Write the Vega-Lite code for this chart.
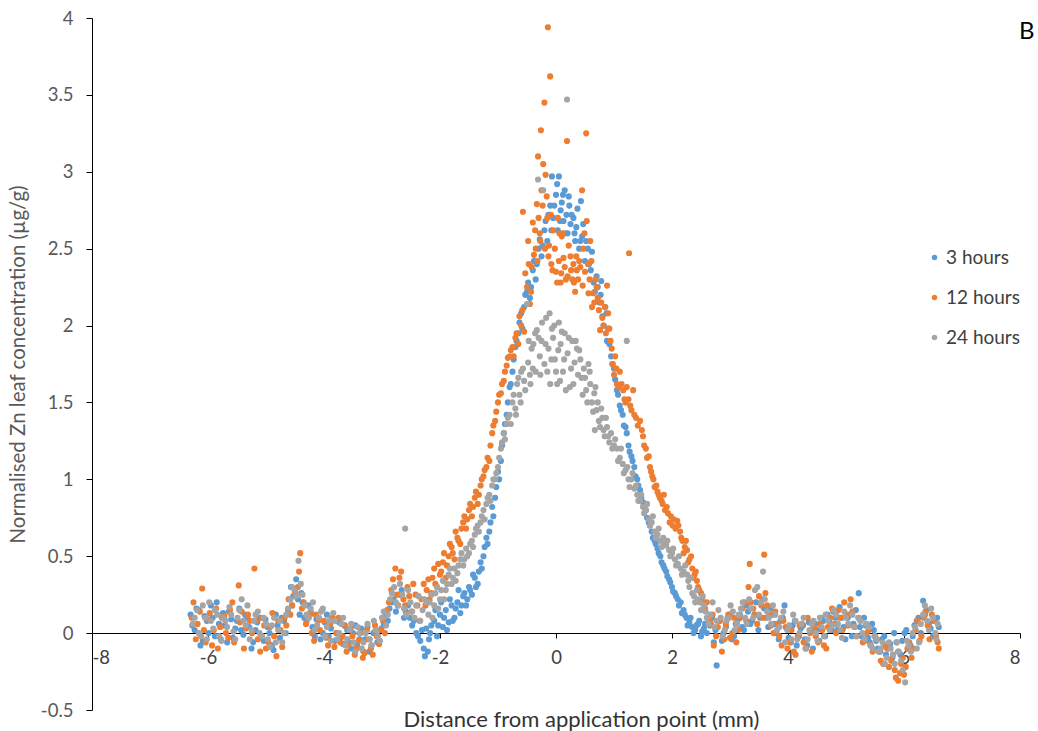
{
"$schema": "https://vega.github.io/schema/vega-lite/v6.json",
"width": 928, "height": 692,
"autosize": {"type": "none"},
"padding": {"left": 92, "top": 18, "right": 18, "bottom": 21},
"background": "white",
"config": {"view": {"stroke": null}, "font": "Lato"},
"title": {"text": "B", "anchor": "end", "fontSize": 24, "fontWeight": "normal", "color": "#000000", "dx": 14, "dy": 22, "offset": -32, "baseline": "alphabetic", "font": "Lato"},
"data": {"values": [
{"h":3,"x":-6.30,"y":0.12},{"h":3,"x":-6.23,"y":0.02},{"h":3,"x":-6.16,"y":0.15},{"h":3,"x":-6.09,"y":-0.05},{"h":3,"x":-6.02,"y":0.08},{"h":3,"x":-5.95,"y":0.18},{"h":3,"x":-5.88,"y":-0.02},{"h":3,"x":-5.81,"y":0.06},{"h":3,"x":-5.74,"y":0.13},{"h":3,"x":-5.67,"y":-0.06},{"h":3,"x":-5.60,"y":0.09},{"h":3,"x":-5.53,"y":0.03},{"h":3,"x":-5.46,"y":0.16},{"h":3,"x":-5.39,"y":-0.01},{"h":3,"x":-5.32,"y":0.10},{"h":3,"x":-5.25,"y":-0.10},{"h":3,"x":-5.18,"y":0.02},{"h":3,"x":-5.11,"y":0.10},{"h":3,"x":-5.04,"y":-0.05},{"h":3,"x":-4.97,"y":0.04},{"h":3,"x":-4.90,"y":-0.08},{"h":3,"x":-4.83,"y":0.12},{"h":3,"x":-4.76,"y":-0.03},{"h":3,"x":-4.69,"y":0.08},{"h":3,"x":-4.62,"y":0.15},{"h":3,"x":-4.57,"y":0.30},{"h":3,"x":-4.53,"y":0.24},{"h":3,"x":-4.48,"y":0.35},{"h":3,"x":-4.42,"y":0.12},{"h":3,"x":-4.37,"y":0.20},{"h":3,"x":-4.30,"y":0.08},{"h":3,"x":-4.23,"y":0.14},{"h":3,"x":-4.16,"y":-0.02},{"h":3,"x":-4.09,"y":0.10},{"h":3,"x":-4.02,"y":0.00},{"h":3,"x":-3.95,"y":0.12},{"h":3,"x":-3.88,"y":0.03},{"h":3,"x":-3.81,"y":-0.05},{"h":3,"x":-3.74,"y":0.07},{"h":3,"x":-3.67,"y":-0.07},{"h":3,"x":-3.60,"y":0.02},{"h":3,"x":-3.53,"y":-0.10},{"h":3,"x":-3.46,"y":0.05},{"h":3,"x":-3.39,"y":-0.04},{"h":3,"x":-3.32,"y":-0.12},{"h":3,"x":-3.25,"y":0.04},{"h":3,"x":-3.18,"y":-0.08},{"h":3,"x":-3.11,"y":0.01},{"h":3,"x":-3.04,"y":-0.05},{"h":3,"x":-2.97,"y":0.06},{"h":3,"x":-2.90,"y":0.08},{"h":3,"x":-2.83,"y":0.20},{"h":3,"x":-2.76,"y":0.14},{"h":3,"x":-2.69,"y":0.25},{"h":3,"x":-2.62,"y":0.10},{"h":3,"x":-2.55,"y":0.18},{"h":3,"x":-2.48,"y":0.05},{"h":3,"x":-2.41,"y":0.00},{"h":3,"x":-2.34,"y":-0.05},{"h":3,"x":-2.28,"y":-0.10},{"h":3,"x":-2.24,"y":0.03},{"h":3,"x":-2.26,"y":-0.15},{"h":3,"x":-2.19,"y":-0.04},{"h":3,"x":-2.15,"y":0.05},
{"h":3,"x":-6.27,"y":0.05},{"h":3,"x":-6.20,"y":0.16},{"h":3,"x":-6.13,"y":-0.08},{"h":3,"x":-6.06,"y":0.11},{"h":3,"x":-5.99,"y":0.00},{"h":3,"x":-5.92,"y":0.10},{"h":3,"x":-5.85,"y":0.20},{"h":3,"x":-5.78,"y":-0.04},{"h":3,"x":-5.71,"y":0.05},{"h":3,"x":-5.64,"y":0.14},{"h":3,"x":-5.57,"y":-0.03},{"h":3,"x":-5.50,"y":0.08},{"h":3,"x":-5.43,"y":0.02},{"h":3,"x":-5.36,"y":0.12},{"h":3,"x":-5.29,"y":0.04},{"h":3,"x":-5.22,"y":-0.06},{"h":3,"x":-5.15,"y":0.07},{"h":3,"x":-5.08,"y":-0.02},{"h":3,"x":-5.01,"y":0.09},{"h":3,"x":-4.94,"y":0.00},{"h":3,"x":-4.87,"y":-0.11},{"h":3,"x":-4.80,"y":0.05},{"h":3,"x":-4.73,"y":0.10},{"h":3,"x":-4.66,"y":0.00},{"h":3,"x":-4.60,"y":0.22},{"h":3,"x":-4.55,"y":0.18},{"h":3,"x":-4.50,"y":0.28},{"h":3,"x":-4.45,"y":0.22},{"h":3,"x":-4.39,"y":0.26},{"h":3,"x":-4.34,"y":0.10},{"h":3,"x":-4.27,"y":0.18},{"h":3,"x":-4.20,"y":0.04},{"h":3,"x":-4.13,"y":0.09},{"h":3,"x":-4.06,"y":-0.04},{"h":3,"x":-3.99,"y":0.07},{"h":3,"x":-3.92,"y":-0.02},{"h":3,"x":-3.85,"y":0.10},{"h":3,"x":-3.78,"y":0.00},{"h":3,"x":-3.71,"y":-0.03},{"h":3,"x":-3.64,"y":0.05},{"h":3,"x":-3.57,"y":-0.06},{"h":3,"x":-3.50,"y":0.00},{"h":3,"x":-3.43,"y":-0.08},{"h":3,"x":-3.36,"y":0.03},{"h":3,"x":-3.29,"y":-0.04},{"h":3,"x":-3.22,"y":-0.12},{"h":3,"x":-3.15,"y":0.00},{"h":3,"x":-3.08,"y":-0.06},{"h":3,"x":-3.01,"y":0.03},{"h":3,"x":-2.94,"y":0.12},{"h":3,"x":-2.87,"y":0.16},{"h":3,"x":-2.80,"y":0.22},{"h":3,"x":-2.73,"y":0.18},{"h":3,"x":-2.66,"y":0.28},{"h":3,"x":-2.59,"y":0.14},{"h":3,"x":-2.52,"y":0.10},{"h":3,"x":-2.45,"y":0.08},{"h":3,"x":-2.38,"y":-0.02},{"h":3,"x":-2.31,"y":0.02},{"h":3,"x":-2.21,"y":-0.12},{"h":3,"x":-2.17,"y":0.00},
{"h":3,"x":-2.10,"y":0.08},{"h":3,"x":-2.05,"y":-0.02},{"h":3,"x":-2.00,"y":0.12},{"h":3,"x":-1.95,"y":0.04},{"h":3,"x":-1.90,"y":0.15},{"h":3,"x":-1.85,"y":0.07},{"h":3,"x":-1.80,"y":0.18},{"h":3,"x":-1.75,"y":0.10},{"h":3,"x":-1.70,"y":0.20},{"h":3,"x":-1.65,"y":0.13},{"h":3,"x":-1.60,"y":0.24},{"h":3,"x":-1.55,"y":0.18},{"h":3,"x":-1.50,"y":0.30},{"h":3,"x":-1.45,"y":0.25},{"h":3,"x":-1.40,"y":0.36},{"h":3,"x":-1.35,"y":0.32},{"h":3,"x":-1.30,"y":0.46},{"h":3,"x":-1.25,"y":0.50},{"h":3,"x":-1.20,"y":0.62},{"h":3,"x":-1.15,"y":0.66},{"h":3,"x":-1.10,"y":0.82},{"h":3,"x":-1.05,"y":0.88},{"h":3,"x":-1.00,"y":1.05},{"h":3,"x":-0.95,"y":1.12},{"h":3,"x":-0.90,"y":1.30},{"h":3,"x":-0.85,"y":1.42},{"h":3,"x":-0.80,"y":1.60},{"h":3,"x":-0.75,"y":1.70},{"h":3,"x":-0.70,"y":1.86},{"h":3,"x":-0.65,"y":1.95},{"h":3,"x":-0.60,"y":2.08},{"h":3,"x":-0.55,"y":2.12},{"h":3,"x":-0.50,"y":2.22},{"h":3,"x":-0.45,"y":2.18},{"h":3,"x":-0.40,"y":2.36},{"h":3,"x":-0.35,"y":2.30},{"h":3,"x":-0.30,"y":2.50},{"h":3,"x":-0.25,"y":2.45},{"h":3,"x":-0.20,"y":2.62},{"h":3,"x":-0.15,"y":2.55},{"h":3,"x":-0.10,"y":2.78},{"h":3,"x":-0.07,"y":2.97},{"h":3,"x":-0.05,"y":2.70},{"h":3,"x":0.00,"y":2.85},{"h":3,"x":0.03,"y":2.62},{"h":3,"x":0.05,"y":2.97},{"h":3,"x":0.08,"y":2.75},{"h":3,"x":0.10,"y":2.80},{"h":3,"x":0.13,"y":2.68},{"h":3,"x":0.15,"y":2.88},{"h":3,"x":0.18,"y":2.72},{"h":3,"x":0.20,"y":2.60},{"h":3,"x":0.23,"y":2.78},{"h":3,"x":0.25,"y":2.66},{"h":3,"x":0.30,"y":2.70},{"h":3,"x":0.33,"y":2.55},{"h":3,"x":0.35,"y":2.64},{"h":3,"x":0.40,"y":2.50},{"h":3,"x":0.43,"y":2.81},{"h":3,"x":0.45,"y":2.58},{"h":3,"x":0.50,"y":2.42},{"h":3,"x":0.55,"y":2.50},{"h":3,"x":0.60,"y":2.36},{"h":3,"x":0.65,"y":2.28},{"h":3,"x":0.70,"y":2.32},{"h":3,"x":0.75,"y":2.15},{"h":3,"x":0.78,"y":2.29},{"h":3,"x":0.80,"y":2.06},{"h":3,"x":0.85,"y":2.12},{"h":3,"x":0.88,"y":1.90},{"h":3,"x":0.90,"y":1.98},{"h":3,"x":0.95,"y":1.80},{"h":3,"x":1.00,"y":1.72},{"h":3,"x":1.05,"y":1.58},{"h":3,"x":1.10,"y":1.48},{"h":3,"x":1.15,"y":1.42},{"h":3,"x":1.20,"y":1.34},{"h":3,"x":1.25,"y":1.22},{"h":3,"x":1.30,"y":1.15},{"h":3,"x":1.35,"y":1.08},{"h":3,"x":1.40,"y":1.00},{"h":3,"x":1.45,"y":0.93},{"h":3,"x":1.50,"y":0.85},{"h":3,"x":1.55,"y":0.80},{"h":3,"x":1.60,"y":0.72},{"h":3,"x":1.65,"y":0.66},{"h":3,"x":1.70,"y":0.60},{"h":3,"x":1.75,"y":0.55},{"h":3,"x":1.80,"y":0.50},{"h":3,"x":1.85,"y":0.44},{"h":3,"x":1.90,"y":0.40},{"h":3,"x":1.95,"y":0.35},{"h":3,"x":2.00,"y":0.30},{"h":3,"x":2.05,"y":0.26},{"h":3,"x":2.10,"y":0.22},{"h":3,"x":2.15,"y":0.20},{"h":3,"x":2.20,"y":0.15},{"h":3,"x":2.25,"y":0.10},{"h":3,"x":2.30,"y":0.07},{"h":3,"x":2.35,"y":0.04},{"h":3,"x":2.40,"y":0.02},{"h":3,"x":2.45,"y":0.06},{"h":3,"x":2.50,"y":-0.02},{"h":3,"x":2.55,"y":0.03},{"h":3,"x":2.60,"y":0.00},
{"h":3,"x":-2.08,"y":0.15},{"h":3,"x":-2.03,"y":0.05},{"h":3,"x":-1.98,"y":0.20},{"h":3,"x":-1.93,"y":0.10},{"h":3,"x":-1.88,"y":0.02},{"h":3,"x":-1.83,"y":0.22},{"h":3,"x":-1.78,"y":0.08},{"h":3,"x":-1.73,"y":0.16},{"h":3,"x":-1.68,"y":0.28},{"h":3,"x":-1.63,"y":0.18},{"h":3,"x":-1.58,"y":0.26},{"h":3,"x":-1.53,"y":0.22},{"h":3,"x":-1.48,"y":0.28},{"h":3,"x":-1.43,"y":0.38},{"h":3,"x":-1.38,"y":0.30},{"h":3,"x":-1.33,"y":0.40},{"h":3,"x":-1.28,"y":0.42},{"h":3,"x":-1.23,"y":0.56},{"h":3,"x":-1.18,"y":0.58},{"h":3,"x":-1.13,"y":0.72},{"h":3,"x":-1.08,"y":0.76},{"h":3,"x":-1.03,"y":0.95},{"h":3,"x":-0.98,"y":1.00},{"h":3,"x":-0.93,"y":1.22},{"h":3,"x":-0.88,"y":1.36},{"h":3,"x":-0.83,"y":1.50},{"h":3,"x":-0.78,"y":1.62},{"h":3,"x":-0.73,"y":1.78},{"h":3,"x":-0.68,"y":1.90},{"h":3,"x":-0.63,"y":2.02},{"h":3,"x":-0.58,"y":1.98},{"h":3,"x":-0.53,"y":2.20},{"h":3,"x":-0.48,"y":2.28},{"h":3,"x":-0.43,"y":2.25},{"h":3,"x":-0.38,"y":2.42},{"h":3,"x":-0.33,"y":2.40},{"h":3,"x":-0.28,"y":2.56},{"h":3,"x":-0.23,"y":2.52},{"h":3,"x":-0.18,"y":2.68},{"h":3,"x":-0.13,"y":2.72},{"h":3,"x":-0.08,"y":2.62},{"h":3,"x":-0.03,"y":2.78},{"h":3,"x":0.02,"y":2.92},{"h":3,"x":0.07,"y":2.68},{"h":3,"x":0.12,"y":2.85},{"h":3,"x":0.17,"y":2.60},{"h":3,"x":0.22,"y":2.84},{"h":3,"x":0.27,"y":2.72},{"h":3,"x":0.32,"y":2.60},{"h":3,"x":0.37,"y":2.76},{"h":3,"x":0.42,"y":2.55},{"h":3,"x":0.47,"y":2.66},{"h":3,"x":0.52,"y":2.55},{"h":3,"x":0.57,"y":2.40},{"h":3,"x":0.62,"y":2.48},{"h":3,"x":0.67,"y":2.22},{"h":3,"x":0.72,"y":2.25},{"h":3,"x":0.77,"y":2.20},{"h":3,"x":0.82,"y":2.00},{"h":3,"x":0.87,"y":2.08},{"h":3,"x":0.92,"y":1.88},{"h":3,"x":0.97,"y":1.75},{"h":3,"x":1.02,"y":1.65},{"h":3,"x":1.07,"y":1.55},{"h":3,"x":1.12,"y":1.45},{"h":3,"x":1.17,"y":1.35},{"h":3,"x":1.22,"y":1.30},{"h":3,"x":1.27,"y":1.18},{"h":3,"x":1.32,"y":1.12},{"h":3,"x":1.37,"y":1.02},{"h":3,"x":1.42,"y":0.96},{"h":3,"x":1.47,"y":0.88},{"h":3,"x":1.52,"y":0.84},{"h":3,"x":1.57,"y":0.75},{"h":3,"x":1.62,"y":0.70},{"h":3,"x":1.67,"y":0.62},{"h":3,"x":1.72,"y":0.58},{"h":3,"x":1.77,"y":0.52},{"h":3,"x":1.82,"y":0.46},{"h":3,"x":1.87,"y":0.42},{"h":3,"x":1.92,"y":0.37},{"h":3,"x":1.97,"y":0.33},{"h":3,"x":2.02,"y":0.27},{"h":3,"x":2.07,"y":0.24},{"h":3,"x":2.12,"y":0.18},{"h":3,"x":2.17,"y":0.13},{"h":3,"x":2.22,"y":0.12},{"h":3,"x":2.27,"y":0.05},{"h":3,"x":2.32,"y":0.10},{"h":3,"x":2.37,"y":0.00},{"h":3,"x":2.42,"y":0.05},{"h":3,"x":2.47,"y":0.08},{"h":3,"x":2.52,"y":0.01},{"h":3,"x":2.57,"y":0.06},
{"h":3,"x":2.65,"y":0.05},{"h":3,"x":2.72,"y":-0.06},{"h":3,"x":2.77,"y":-0.21},{"h":3,"x":2.82,"y":0.08},{"h":3,"x":2.89,"y":0.00},{"h":3,"x":2.96,"y":0.10},{"h":3,"x":3.03,"y":-0.04},{"h":3,"x":3.10,"y":0.06},{"h":3,"x":3.17,"y":0.12},{"h":3,"x":3.24,"y":0.02},{"h":3,"x":3.31,"y":0.14},{"h":3,"x":3.38,"y":0.08},{"h":3,"x":3.45,"y":0.20},{"h":3,"x":3.52,"y":0.10},{"h":3,"x":3.59,"y":0.16},{"h":3,"x":3.66,"y":0.04},{"h":3,"x":3.73,"y":0.12},{"h":3,"x":3.80,"y":0.00},{"h":3,"x":3.87,"y":0.08},{"h":3,"x":3.94,"y":0.18},{"h":3,"x":4.01,"y":-0.03},{"h":3,"x":4.08,"y":0.05},{"h":3,"x":4.15,"y":-0.08},{"h":3,"x":4.22,"y":0.03},{"h":3,"x":4.29,"y":-0.04},{"h":3,"x":4.36,"y":0.07},{"h":3,"x":4.43,"y":-0.10},{"h":3,"x":4.50,"y":0.02},{"h":3,"x":4.57,"y":0.10},{"h":3,"x":4.64,"y":-0.02},{"h":3,"x":4.71,"y":0.08},{"h":3,"x":4.78,"y":0.14},{"h":3,"x":4.85,"y":0.02},{"h":3,"x":4.92,"y":0.10},{"h":3,"x":4.99,"y":-0.04},{"h":3,"x":5.06,"y":0.12},{"h":3,"x":5.13,"y":0.06},{"h":3,"x":5.22,"y":0.26},{"h":3,"x":5.27,"y":-0.02},{"h":3,"x":5.34,"y":0.05},{"h":3,"x":5.41,"y":-0.06},{"h":3,"x":5.48,"y":0.02},{"h":3,"x":5.55,"y":-0.10},{"h":3,"x":5.62,"y":-0.04},{"h":3,"x":5.69,"y":-0.14},{"h":3,"x":5.76,"y":-0.07},{"h":3,"x":5.83,"y":0.00},{"h":3,"x":5.90,"y":-0.12},{"h":3,"x":5.97,"y":-0.05},{"h":3,"x":6.04,"y":0.02},{"h":3,"x":6.11,"y":-0.08},{"h":3,"x":6.18,"y":0.05},{"h":3,"x":6.25,"y":0.10},{"h":3,"x":6.33,"y":0.21},{"h":3,"x":6.39,"y":0.15},{"h":3,"x":6.46,"y":0.03},{"h":3,"x":6.53,"y":0.08},{"h":3,"x":6.60,"y":0.04},
{"h":3,"x":2.69,"y":0.10},{"h":3,"x":2.75,"y":0.02},{"h":3,"x":2.86,"y":-0.05},{"h":3,"x":2.93,"y":0.04},{"h":3,"x":3.00,"y":0.12},{"h":3,"x":3.07,"y":-0.02},{"h":3,"x":3.14,"y":0.09},{"h":3,"x":3.21,"y":0.04},{"h":3,"x":3.28,"y":0.18},{"h":3,"x":3.35,"y":0.06},{"h":3,"x":3.42,"y":0.12},{"h":3,"x":3.49,"y":0.02},{"h":3,"x":3.56,"y":0.22},{"h":3,"x":3.63,"y":0.10},{"h":3,"x":3.70,"y":0.16},{"h":3,"x":3.77,"y":0.06},{"h":3,"x":3.84,"y":-0.04},{"h":3,"x":3.91,"y":0.10},{"h":3,"x":3.98,"y":0.03},{"h":3,"x":4.05,"y":-0.06},{"h":3,"x":4.12,"y":0.08},{"h":3,"x":4.19,"y":-0.02},{"h":3,"x":4.26,"y":0.05},{"h":3,"x":4.33,"y":-0.08},{"h":3,"x":4.40,"y":0.02},{"h":3,"x":4.47,"y":0.06},{"h":3,"x":4.54,"y":-0.05},{"h":3,"x":4.61,"y":0.08},{"h":3,"x":4.68,"y":0.12},{"h":3,"x":4.75,"y":0.02},{"h":3,"x":4.82,"y":0.10},{"h":3,"x":4.89,"y":0.17},{"h":3,"x":4.96,"y":0.04},{"h":3,"x":5.03,"y":0.10},{"h":3,"x":5.10,"y":-0.02},{"h":3,"x":5.17,"y":0.15},{"h":3,"x":5.24,"y":0.04},{"h":3,"x":5.31,"y":0.10},{"h":3,"x":5.38,"y":-0.03},{"h":3,"x":5.45,"y":0.06},{"h":3,"x":5.52,"y":-0.05},{"h":3,"x":5.59,"y":-0.12},{"h":3,"x":5.66,"y":-0.02},{"h":3,"x":5.73,"y":-0.10},{"h":3,"x":5.80,"y":-0.16},{"h":3,"x":5.87,"y":-0.06},{"h":3,"x":5.94,"y":-0.14},{"h":3,"x":6.01,"y":0.00},{"h":3,"x":6.08,"y":-0.10},{"h":3,"x":6.15,"y":-0.02},{"h":3,"x":6.22,"y":0.08},{"h":3,"x":6.29,"y":0.00},{"h":3,"x":6.36,"y":0.12},{"h":3,"x":6.43,"y":0.06},{"h":3,"x":6.50,"y":-0.02},{"h":3,"x":6.57,"y":0.10},
{"h":12,"x":-6.28,"y":0.10},{"h":12,"x":-6.21,"y":-0.04},{"h":12,"x":-6.14,"y":0.14},{"h":12,"x":-6.10,"y":0.29},{"h":12,"x":-6.07,"y":0.02},{"h":12,"x":-6.00,"y":0.09},{"h":12,"x":-5.93,"y":-0.08},{"h":12,"x":-5.86,"y":0.16},{"h":12,"x":-5.79,"y":0.04},{"h":12,"x":-5.72,"y":0.11},{"h":12,"x":-5.65,"y":-0.03},{"h":12,"x":-5.58,"y":0.20},{"h":12,"x":-5.47,"y":0.31},{"h":12,"x":-5.45,"y":0.07},{"h":12,"x":-5.38,"y":-0.10},{"h":12,"x":-5.31,"y":0.12},{"h":12,"x":-5.24,"y":0.00},{"h":12,"x":-5.20,"y":0.42},{"h":12,"x":-5.17,"y":0.08},{"h":12,"x":-5.10,"y":-0.12},{"h":12,"x":-5.03,"y":0.05},{"h":12,"x":-4.96,"y":-0.06},{"h":12,"x":-4.89,"y":0.13},{"h":12,"x":-4.82,"y":-0.15},{"h":12,"x":-4.75,"y":0.02},{"h":12,"x":-4.68,"y":0.10},{"h":12,"x":-4.61,"y":0.22},{"h":12,"x":-4.55,"y":0.18},{"h":12,"x":-4.45,"y":0.30},{"h":12,"x":-4.41,"y":0.52},{"h":12,"x":-4.38,"y":0.16},{"h":12,"x":-4.31,"y":0.06},{"h":12,"x":-4.24,"y":0.12},{"h":12,"x":-4.17,"y":-0.05},{"h":12,"x":-4.10,"y":0.08},{"h":12,"x":-4.03,"y":0.15},{"h":12,"x":-3.96,"y":-0.03},{"h":12,"x":-3.89,"y":0.06},{"h":12,"x":-3.82,"y":-0.09},{"h":12,"x":-3.75,"y":0.10},{"h":12,"x":-3.68,"y":-0.02},{"h":12,"x":-3.61,"y":-0.12},{"h":12,"x":-3.54,"y":0.03},{"h":12,"x":-3.47,"y":-0.14},{"h":12,"x":-3.40,"y":-0.05},{"h":12,"x":-3.33,"y":-0.16},{"h":12,"x":-3.26,"y":0.02},{"h":12,"x":-3.19,"y":-0.10},{"h":12,"x":-3.12,"y":0.05},{"h":12,"x":-3.05,"y":-0.07},{"h":12,"x":-2.98,"y":0.08},{"h":12,"x":-2.91,"y":0.15},{"h":12,"x":-2.84,"y":0.28},{"h":12,"x":-2.77,"y":0.42},{"h":12,"x":-2.70,"y":0.36},{"h":12,"x":-2.63,"y":0.22},{"h":12,"x":-2.56,"y":0.30},{"h":12,"x":-2.49,"y":0.14},{"h":12,"x":-2.42,"y":0.25},{"h":12,"x":-2.35,"y":0.08},{"h":12,"x":-2.28,"y":0.32},
{"h":12,"x":-6.25,"y":0.20},{"h":12,"x":-6.18,"y":0.06},{"h":12,"x":-6.04,"y":-0.06},{"h":12,"x":-5.97,"y":0.13},{"h":12,"x":-5.90,"y":0.02},{"h":12,"x":-5.83,"y":-0.10},{"h":12,"x":-5.76,"y":0.10},{"h":12,"x":-5.69,"y":0.00},{"h":12,"x":-5.62,"y":0.15},{"h":12,"x":-5.55,"y":-0.06},{"h":12,"x":-5.42,"y":0.14},{"h":12,"x":-5.35,"y":0.03},{"h":12,"x":-5.28,"y":0.08},{"h":12,"x":-5.14,"y":-0.04},{"h":12,"x":-5.07,"y":0.10},{"h":12,"x":-5.00,"y":-0.10},{"h":12,"x":-4.93,"y":0.04},{"h":12,"x":-4.86,"y":-0.02},{"h":12,"x":-4.79,"y":0.08},{"h":12,"x":-4.72,"y":-0.09},{"h":12,"x":-4.65,"y":0.05},{"h":12,"x":-4.58,"y":0.12},{"h":12,"x":-4.50,"y":0.26},{"h":12,"x":-4.43,"y":0.40},{"h":12,"x":-4.35,"y":0.20},{"h":12,"x":-4.28,"y":0.10},{"h":12,"x":-4.21,"y":0.00},{"h":12,"x":-4.14,"y":0.12},{"h":12,"x":-4.07,"y":0.02},{"h":12,"x":-4.00,"y":0.08},{"h":12,"x":-3.93,"y":-0.08},{"h":12,"x":-3.86,"y":0.10},{"h":12,"x":-3.79,"y":0.00},{"h":12,"x":-3.72,"y":-0.06},{"h":12,"x":-3.65,"y":0.05},{"h":12,"x":-3.58,"y":-0.08},{"h":12,"x":-3.51,"y":-0.02},{"h":12,"x":-3.44,"y":-0.10},{"h":12,"x":-3.37,"y":0.00},{"h":12,"x":-3.30,"y":-0.13},{"h":12,"x":-3.23,"y":-0.04},{"h":12,"x":-3.16,"y":-0.14},{"h":12,"x":-3.09,"y":-0.02},{"h":12,"x":-3.02,"y":0.02},{"h":12,"x":-2.95,"y":0.00},{"h":12,"x":-2.88,"y":0.20},{"h":12,"x":-2.81,"y":0.35},{"h":12,"x":-2.74,"y":0.25},{"h":12,"x":-2.67,"y":0.40},{"h":12,"x":-2.60,"y":0.18},{"h":12,"x":-2.53,"y":0.24},{"h":12,"x":-2.46,"y":0.32},{"h":12,"x":-2.39,"y":0.18},{"h":12,"x":-2.32,"y":0.22},
{"h":12,"x":-2.25,"y":0.18},{"h":12,"x":-2.20,"y":0.35},{"h":12,"x":-2.15,"y":0.26},{"h":12,"x":-2.10,"y":0.42},{"h":12,"x":-2.05,"y":0.30},{"h":12,"x":-2.00,"y":0.38},{"h":12,"x":-1.95,"y":0.46},{"h":12,"x":-1.90,"y":0.36},{"h":12,"x":-1.85,"y":0.50},{"h":12,"x":-1.80,"y":0.56},{"h":12,"x":-1.75,"y":0.48},{"h":12,"x":-1.70,"y":0.62},{"h":12,"x":-1.65,"y":0.58},{"h":12,"x":-1.60,"y":0.72},{"h":12,"x":-1.55,"y":0.68},{"h":12,"x":-1.50,"y":0.80},{"h":12,"x":-1.45,"y":0.76},{"h":12,"x":-1.40,"y":0.88},{"h":12,"x":-1.35,"y":0.84},{"h":12,"x":-1.30,"y":0.96},{"h":12,"x":-1.25,"y":1.02},{"h":12,"x":-1.20,"y":1.08},{"h":12,"x":-1.15,"y":1.12},{"h":12,"x":-1.10,"y":1.30},{"h":12,"x":-1.05,"y":1.38},{"h":12,"x":-1.00,"y":1.50},{"h":12,"x":-0.95,"y":1.56},{"h":12,"x":-0.90,"y":1.64},{"h":12,"x":-0.85,"y":1.74},{"h":12,"x":-0.80,"y":1.80},{"h":12,"x":-0.75,"y":1.86},{"h":12,"x":-0.70,"y":1.92},{"h":12,"x":-0.65,"y":1.88},{"h":12,"x":-0.60,"y":2.00},{"h":12,"x":-0.57,"y":2.74},{"h":12,"x":-0.55,"y":1.96},{"h":12,"x":-0.50,"y":2.25},{"h":12,"x":-0.48,"y":2.55},{"h":12,"x":-0.45,"y":2.14},{"h":12,"x":-0.42,"y":2.38},{"h":12,"x":-0.40,"y":2.67},{"h":12,"x":-0.35,"y":2.50},{"h":12,"x":-0.33,"y":2.79},{"h":12,"x":-0.31,"y":3.10},{"h":12,"x":-0.28,"y":2.60},{"h":12,"x":-0.26,"y":3.27},{"h":12,"x":-0.25,"y":2.88},{"h":12,"x":-0.22,"y":3.05},{"h":12,"x":-0.20,"y":3.45},{"h":12,"x":-0.18,"y":2.98},{"h":12,"x":-0.15,"y":2.70},{"h":12,"x":-0.14,"y":3.94},{"h":12,"x":-0.12,"y":2.52},{"h":12,"x":-0.10,"y":3.62},{"h":12,"x":-0.08,"y":2.40},{"h":12,"x":-0.05,"y":2.62},{"h":12,"x":0.00,"y":2.35},{"h":12,"x":0.03,"y":2.70},{"h":12,"x":0.05,"y":2.42},{"h":12,"x":0.08,"y":2.28},{"h":12,"x":0.10,"y":2.58},{"h":12,"x":0.12,"y":2.60},{"h":12,"x":0.15,"y":2.38},{"h":12,"x":0.19,"y":3.20},{"h":12,"x":0.20,"y":2.32},{"h":12,"x":0.25,"y":2.45},{"h":12,"x":0.28,"y":2.30},{"h":12,"x":0.30,"y":2.40},{"h":12,"x":0.33,"y":2.22},{"h":12,"x":0.36,"y":2.36},{"h":12,"x":0.40,"y":2.42},{"h":12,"x":0.45,"y":2.88},{"h":12,"x":0.47,"y":2.50},{"h":12,"x":0.50,"y":2.35},{"h":12,"x":0.52,"y":3.25},{"h":12,"x":0.53,"y":2.68},{"h":12,"x":0.56,"y":2.21},{"h":12,"x":0.59,"y":2.55},{"h":12,"x":0.62,"y":2.12},{"h":12,"x":0.64,"y":2.21},{"h":12,"x":0.68,"y":2.30},{"h":12,"x":0.72,"y":2.18},{"h":12,"x":0.76,"y":1.97},{"h":12,"x":0.80,"y":2.05},{"h":12,"x":0.84,"y":2.12},{"h":12,"x":0.88,"y":2.26},{"h":12,"x":0.90,"y":2.08},{"h":12,"x":0.94,"y":1.90},{"h":12,"x":0.98,"y":1.75},{"h":12,"x":1.02,"y":1.80},{"h":12,"x":1.05,"y":1.62},{"h":12,"x":1.10,"y":1.70},{"h":12,"x":1.16,"y":1.58},{"h":12,"x":1.20,"y":1.50},{"h":12,"x":1.25,"y":1.52},{"h":12,"x":1.26,"y":2.47},{"h":12,"x":1.30,"y":1.45},{"h":12,"x":1.33,"y":1.58},{"h":12,"x":1.38,"y":1.40},{"h":12,"x":1.45,"y":1.38},{"h":12,"x":1.50,"y":1.28},{"h":12,"x":1.55,"y":1.20},{"h":12,"x":1.57,"y":1.14},{"h":12,"x":1.62,"y":1.08},{"h":12,"x":1.66,"y":1.02},{"h":12,"x":1.70,"y":0.95},{"h":12,"x":1.75,"y":0.92},{"h":12,"x":1.79,"y":0.88},{"h":12,"x":1.84,"y":0.84},{"h":12,"x":1.88,"y":0.80},{"h":12,"x":1.93,"y":0.78},{"h":12,"x":1.98,"y":0.76},{"h":12,"x":2.03,"y":0.74},{"h":12,"x":2.09,"y":0.73},{"h":12,"x":2.14,"y":0.66},{"h":12,"x":2.18,"y":0.60},{"h":12,"x":2.22,"y":0.56},{"h":12,"x":2.26,"y":0.54},{"h":12,"x":2.30,"y":0.48},{"h":12,"x":2.35,"y":0.42},{"h":12,"x":2.39,"y":0.38},{"h":12,"x":2.43,"y":0.34},{"h":12,"x":2.47,"y":0.28},{"h":12,"x":2.52,"y":0.22},{"h":12,"x":2.57,"y":0.16},{"h":12,"x":2.62,"y":0.10},{"h":12,"x":2.67,"y":0.06},
{"h":12,"x":-2.23,"y":0.28},{"h":12,"x":-2.18,"y":0.22},{"h":12,"x":-2.13,"y":0.36},{"h":12,"x":-2.08,"y":0.32},{"h":12,"x":-2.03,"y":0.45},{"h":12,"x":-1.98,"y":0.40},{"h":12,"x":-1.93,"y":0.52},{"h":12,"x":-1.88,"y":0.44},{"h":12,"x":-1.83,"y":0.58},{"h":12,"x":-1.78,"y":0.52},{"h":12,"x":-1.73,"y":0.66},{"h":12,"x":-1.68,"y":0.60},{"h":12,"x":-1.63,"y":0.68},{"h":12,"x":-1.58,"y":0.76},{"h":12,"x":-1.53,"y":0.74},{"h":12,"x":-1.48,"y":0.84},{"h":12,"x":-1.43,"y":0.82},{"h":12,"x":-1.38,"y":0.92},{"h":12,"x":-1.33,"y":0.90},{"h":12,"x":-1.28,"y":1.00},{"h":12,"x":-1.23,"y":1.06},{"h":12,"x":-1.18,"y":1.14},{"h":12,"x":-1.13,"y":1.22},{"h":12,"x":-1.08,"y":1.35},{"h":12,"x":-1.03,"y":1.44},{"h":12,"x":-0.98,"y":1.55},{"h":12,"x":-0.93,"y":1.62},{"h":12,"x":-0.88,"y":1.70},{"h":12,"x":-0.83,"y":1.79},{"h":12,"x":-0.78,"y":1.84},{"h":12,"x":-0.73,"y":1.80},{"h":12,"x":-0.68,"y":1.95},{"h":12,"x":-0.63,"y":2.06},{"h":12,"x":-0.58,"y":2.10},{"h":12,"x":-0.53,"y":2.34},{"h":12,"x":-0.47,"y":2.40},{"h":12,"x":-0.43,"y":2.22},{"h":12,"x":-0.38,"y":2.46},{"h":12,"x":-0.36,"y":2.62},{"h":12,"x":-0.32,"y":2.42},{"h":12,"x":-0.30,"y":2.70},{"h":12,"x":-0.27,"y":2.55},{"h":12,"x":-0.23,"y":2.78},{"h":12,"x":-0.19,"y":2.50},{"h":12,"x":-0.16,"y":2.84},{"h":12,"x":-0.13,"y":2.45},{"h":12,"x":-0.09,"y":2.72},{"h":12,"x":-0.06,"y":2.36},{"h":12,"x":-0.02,"y":2.50},{"h":12,"x":0.02,"y":2.28},{"h":12,"x":0.06,"y":2.60},{"h":12,"x":0.09,"y":2.34},{"h":12,"x":0.13,"y":2.44},{"h":12,"x":0.17,"y":2.30},{"h":12,"x":0.22,"y":2.52},{"h":12,"x":0.26,"y":2.36},{"h":12,"x":0.31,"y":2.28},{"h":12,"x":0.35,"y":2.45},{"h":12,"x":0.38,"y":2.30},{"h":12,"x":0.42,"y":2.38},{"h":12,"x":0.46,"y":2.26},{"h":12,"x":0.49,"y":2.60},{"h":12,"x":0.55,"y":2.40},{"h":12,"x":0.58,"y":2.30},{"h":12,"x":0.61,"y":2.42},{"h":12,"x":0.66,"y":2.15},{"h":12,"x":0.70,"y":2.25},{"h":12,"x":0.74,"y":2.10},{"h":12,"x":0.78,"y":2.15},{"h":12,"x":0.82,"y":2.00},{"h":12,"x":0.86,"y":1.95},{"h":12,"x":0.92,"y":1.98},{"h":12,"x":0.96,"y":1.85},{"h":12,"x":1.00,"y":1.68},{"h":12,"x":1.04,"y":1.72},{"h":12,"x":1.08,"y":1.60},{"h":12,"x":1.13,"y":1.62},{"h":12,"x":1.18,"y":1.52},{"h":12,"x":1.22,"y":1.60},{"h":12,"x":1.28,"y":1.48},{"h":12,"x":1.35,"y":1.42},{"h":12,"x":1.41,"y":1.35},{"h":12,"x":1.48,"y":1.32},{"h":12,"x":1.52,"y":1.22},{"h":12,"x":1.60,"y":1.15},{"h":12,"x":1.64,"y":1.05},{"h":12,"x":1.68,"y":1.00},{"h":12,"x":1.73,"y":0.96},{"h":12,"x":1.77,"y":0.90},{"h":12,"x":1.82,"y":0.86},{"h":12,"x":1.86,"y":0.90},{"h":12,"x":1.91,"y":0.82},{"h":12,"x":1.96,"y":0.72},{"h":12,"x":2.01,"y":0.70},{"h":12,"x":2.06,"y":0.68},{"h":12,"x":2.11,"y":0.70},{"h":12,"x":2.16,"y":0.62},{"h":12,"x":2.20,"y":0.52},{"h":12,"x":2.24,"y":0.60},{"h":12,"x":2.28,"y":0.46},{"h":12,"x":2.33,"y":0.50},{"h":12,"x":2.37,"y":0.36},{"h":12,"x":2.41,"y":0.40},{"h":12,"x":2.45,"y":0.30},{"h":12,"x":2.50,"y":0.26},{"h":12,"x":2.55,"y":0.18},{"h":12,"x":2.60,"y":0.20},{"h":12,"x":2.65,"y":0.08},{"h":12,"x":2.70,"y":0.12},
{"h":12,"x":2.72,"y":-0.08},{"h":12,"x":2.79,"y":0.04},{"h":12,"x":2.86,"y":-0.12},{"h":12,"x":2.93,"y":0.06},{"h":12,"x":3.00,"y":-0.03},{"h":12,"x":3.07,"y":0.10},{"h":12,"x":3.14,"y":0.02},{"h":12,"x":3.21,"y":0.16},{"h":12,"x":3.28,"y":0.08},{"h":12,"x":3.34,"y":0.45},{"h":12,"x":3.36,"y":0.20},{"h":12,"x":3.43,"y":0.12},{"h":12,"x":3.50,"y":0.24},{"h":12,"x":3.57,"y":0.10},{"h":12,"x":3.59,"y":0.51},{"h":12,"x":3.64,"y":0.18},{"h":12,"x":3.71,"y":0.05},{"h":12,"x":3.78,"y":0.14},{"h":12,"x":3.85,"y":-0.02},{"h":12,"x":3.92,"y":0.08},{"h":12,"x":3.99,"y":-0.10},{"h":12,"x":4.06,"y":0.02},{"h":12,"x":4.13,"y":-0.14},{"h":12,"x":4.20,"y":0.05},{"h":12,"x":4.27,"y":-0.06},{"h":12,"x":4.34,"y":0.10},{"h":12,"x":4.41,"y":-0.12},{"h":12,"x":4.48,"y":-0.02},{"h":12,"x":4.55,"y":0.06},{"h":12,"x":4.62,"y":-0.08},{"h":12,"x":4.69,"y":0.04},{"h":12,"x":4.76,"y":0.16},{"h":12,"x":4.83,"y":0.00},{"h":12,"x":4.90,"y":0.10},{"h":12,"x":4.97,"y":0.20},{"h":12,"x":5.04,"y":0.05},{"h":12,"x":5.11,"y":0.14},{"h":12,"x":5.18,"y":-0.02},{"h":12,"x":5.25,"y":0.08},{"h":12,"x":5.32,"y":-0.05},{"h":12,"x":5.39,"y":0.02},{"h":12,"x":5.46,"y":-0.12},{"h":12,"x":5.53,"y":-0.04},{"h":12,"x":5.60,"y":-0.18},{"h":12,"x":5.67,"y":-0.08},{"h":12,"x":5.74,"y":-0.22},{"h":12,"x":5.81,"y":-0.14},{"h":12,"x":5.86,"y":-0.29},{"h":12,"x":5.90,"y":-0.31},{"h":12,"x":5.95,"y":-0.20},{"h":12,"x":6.00,"y":-0.27},{"h":12,"x":6.06,"y":-0.10},{"h":12,"x":6.13,"y":-0.16},{"h":12,"x":6.20,"y":0.02},{"h":12,"x":6.27,"y":-0.05},{"h":12,"x":6.34,"y":0.10},{"h":12,"x":6.41,"y":0.05},{"h":12,"x":6.48,"y":0.12},{"h":12,"x":6.55,"y":-0.02},{"h":12,"x":6.60,"y":-0.10},
{"h":12,"x":2.76,"y":-0.02},{"h":12,"x":2.83,"y":0.08},{"h":12,"x":2.90,"y":-0.04},{"h":12,"x":2.97,"y":0.12},{"h":12,"x":3.04,"y":0.00},{"h":12,"x":3.11,"y":-0.06},{"h":12,"x":3.18,"y":0.10},{"h":12,"x":3.25,"y":0.20},{"h":12,"x":3.32,"y":0.30},{"h":12,"x":3.40,"y":0.16},{"h":12,"x":3.47,"y":0.06},{"h":12,"x":3.54,"y":0.18},{"h":12,"x":3.61,"y":0.26},{"h":12,"x":3.68,"y":0.12},{"h":12,"x":3.75,"y":0.00},{"h":12,"x":3.82,"y":0.06},{"h":12,"x":3.89,"y":-0.08},{"h":12,"x":3.96,"y":0.04},{"h":12,"x":4.03,"y":-0.06},{"h":12,"x":4.10,"y":-0.12},{"h":12,"x":4.17,"y":-0.02},{"h":12,"x":4.24,"y":0.06},{"h":12,"x":4.31,"y":-0.10},{"h":12,"x":4.38,"y":0.00},{"h":12,"x":4.45,"y":0.04},{"h":12,"x":4.52,"y":-0.06},{"h":12,"x":4.59,"y":0.02},{"h":12,"x":4.66,"y":-0.10},{"h":12,"x":4.73,"y":0.10},{"h":12,"x":4.80,"y":0.06},{"h":12,"x":4.87,"y":0.15},{"h":12,"x":4.94,"y":0.02},{"h":12,"x":5.01,"y":0.12},{"h":12,"x":5.08,"y":0.22},{"h":12,"x":5.15,"y":0.04},{"h":12,"x":5.22,"y":0.10},{"h":12,"x":5.29,"y":-0.06},{"h":12,"x":5.36,"y":0.00},{"h":12,"x":5.43,"y":-0.08},{"h":12,"x":5.50,"y":-0.02},{"h":12,"x":5.57,"y":-0.12},{"h":12,"x":5.64,"y":-0.20},{"h":12,"x":5.71,"y":-0.10},{"h":12,"x":5.78,"y":-0.18},{"h":12,"x":5.84,"y":-0.24},{"h":12,"x":5.93,"y":-0.26},{"h":12,"x":5.98,"y":-0.16},{"h":12,"x":6.03,"y":-0.22},{"h":12,"x":6.09,"y":-0.06},{"h":12,"x":6.16,"y":-0.10},{"h":12,"x":6.23,"y":0.08},{"h":12,"x":6.30,"y":-0.02},{"h":12,"x":6.37,"y":0.14},{"h":12,"x":6.44,"y":-0.04},{"h":12,"x":6.51,"y":0.08},{"h":12,"x":6.58,"y":-0.06},
{"h":24,"x":-6.26,"y":0.06},{"h":24,"x":-6.19,"y":0.15},{"h":24,"x":-6.12,"y":-0.02},{"h":24,"x":-6.05,"y":0.10},{"h":24,"x":-5.98,"y":0.20},{"h":24,"x":-5.91,"y":0.03},{"h":24,"x":-5.84,"y":0.12},{"h":24,"x":-5.77,"y":-0.05},{"h":24,"x":-5.70,"y":0.08},{"h":24,"x":-5.63,"y":0.17},{"h":24,"x":-5.56,"y":0.01},{"h":24,"x":-5.49,"y":0.10},{"h":24,"x":-5.42,"y":0.22},{"h":24,"x":-5.35,"y":0.05},{"h":24,"x":-5.28,"y":-0.04},{"h":24,"x":-5.21,"y":0.08},{"h":24,"x":-5.14,"y":0.14},{"h":24,"x":-5.07,"y":-0.02},{"h":24,"x":-5.00,"y":0.06},{"h":24,"x":-4.93,"y":-0.09},{"h":24,"x":-4.86,"y":0.10},{"h":24,"x":-4.79,"y":0.02},{"h":24,"x":-4.72,"y":-0.06},{"h":24,"x":-4.65,"y":0.12},{"h":24,"x":-4.58,"y":0.22},{"h":24,"x":-4.51,"y":0.28},{"h":24,"x":-4.44,"y":0.47},{"h":24,"x":-4.40,"y":0.32},{"h":24,"x":-4.33,"y":0.18},{"h":24,"x":-4.26,"y":0.10},{"h":24,"x":-4.19,"y":0.20},{"h":24,"x":-4.12,"y":0.05},{"h":24,"x":-4.05,"y":0.14},{"h":24,"x":-3.98,"y":-0.02},{"h":24,"x":-3.91,"y":0.08},{"h":24,"x":-3.84,"y":0.13},{"h":24,"x":-3.77,"y":-0.04},{"h":24,"x":-3.70,"y":0.06},{"h":24,"x":-3.63,"y":-0.08},{"h":24,"x":-3.56,"y":0.02},{"h":24,"x":-3.49,"y":-0.06},{"h":24,"x":-3.42,"y":0.04},{"h":24,"x":-3.35,"y":-0.10},{"h":24,"x":-3.28,"y":0.00},{"h":24,"x":-3.21,"y":-0.04},{"h":24,"x":-3.14,"y":0.08},{"h":24,"x":-3.07,"y":-0.02},{"h":24,"x":-3.00,"y":0.10},{"h":24,"x":-2.93,"y":0.05},{"h":24,"x":-2.86,"y":0.22},{"h":24,"x":-2.79,"y":0.30},{"h":24,"x":-2.72,"y":0.18},{"h":24,"x":-2.65,"y":0.25},{"h":24,"x":-2.60,"y":0.68},{"h":24,"x":-2.58,"y":0.12},{"h":24,"x":-2.51,"y":0.20},{"h":24,"x":-2.44,"y":0.10},{"h":24,"x":-2.37,"y":0.24},{"h":24,"x":-2.30,"y":0.15},{"h":24,"x":-2.23,"y":0.20},
{"h":24,"x":-6.23,"y":0.10},{"h":24,"x":-6.16,"y":0.00},{"h":24,"x":-6.09,"y":0.18},{"h":24,"x":-6.02,"y":-0.04},{"h":24,"x":-5.95,"y":0.08},{"h":24,"x":-5.88,"y":0.15},{"h":24,"x":-5.81,"y":-0.02},{"h":24,"x":-5.74,"y":0.10},{"h":24,"x":-5.67,"y":0.04},{"h":24,"x":-5.60,"y":0.12},{"h":24,"x":-5.53,"y":-0.04},{"h":24,"x":-5.46,"y":0.15},{"h":24,"x":-5.39,"y":0.08},{"h":24,"x":-5.32,"y":0.18},{"h":24,"x":-5.25,"y":0.02},{"h":24,"x":-5.18,"y":0.12},{"h":24,"x":-5.11,"y":0.00},{"h":24,"x":-5.04,"y":0.10},{"h":24,"x":-4.97,"y":-0.04},{"h":24,"x":-4.90,"y":0.05},{"h":24,"x":-4.83,"y":-0.06},{"h":24,"x":-4.76,"y":0.08},{"h":24,"x":-4.69,"y":0.00},{"h":24,"x":-4.62,"y":0.16},{"h":24,"x":-4.55,"y":0.30},{"h":24,"x":-4.48,"y":0.24},{"h":24,"x":-4.37,"y":0.25},{"h":24,"x":-4.30,"y":0.12},{"h":24,"x":-4.23,"y":0.16},{"h":24,"x":-4.16,"y":0.02},{"h":24,"x":-4.09,"y":0.10},{"h":24,"x":-4.02,"y":0.16},{"h":24,"x":-3.95,"y":0.04},{"h":24,"x":-3.88,"y":-0.05},{"h":24,"x":-3.81,"y":0.08},{"h":24,"x":-3.74,"y":0.00},{"h":24,"x":-3.67,"y":0.10},{"h":24,"x":-3.60,"y":-0.04},{"h":24,"x":-3.53,"y":0.06},{"h":24,"x":-3.46,"y":-0.12},{"h":24,"x":-3.39,"y":0.00},{"h":24,"x":-3.32,"y":-0.06},{"h":24,"x":-3.25,"y":0.06},{"h":24,"x":-3.18,"y":-0.08},{"h":24,"x":-3.11,"y":0.02},{"h":24,"x":-3.04,"y":-0.05},{"h":24,"x":-2.97,"y":0.14},{"h":24,"x":-2.90,"y":0.12},{"h":24,"x":-2.83,"y":0.26},{"h":24,"x":-2.76,"y":0.20},{"h":24,"x":-2.69,"y":0.32},{"h":24,"x":-2.62,"y":0.16},{"h":24,"x":-2.55,"y":0.28},{"h":24,"x":-2.48,"y":0.14},{"h":24,"x":-2.41,"y":0.18},{"h":24,"x":-2.34,"y":0.08},{"h":24,"x":-2.27,"y":0.22},
{"h":24,"x":-2.20,"y":0.12},{"h":24,"x":-2.15,"y":0.25},{"h":24,"x":-2.10,"y":0.18},{"h":24,"x":-2.05,"y":0.30},{"h":24,"x":-2.00,"y":0.22},{"h":24,"x":-1.95,"y":0.34},{"h":24,"x":-1.90,"y":0.28},{"h":24,"x":-1.85,"y":0.38},{"h":24,"x":-1.80,"y":0.32},{"h":24,"x":-1.75,"y":0.42},{"h":24,"x":-1.70,"y":0.39},{"h":24,"x":-1.65,"y":0.48},{"h":24,"x":-1.60,"y":0.44},{"h":24,"x":-1.55,"y":0.55},{"h":24,"x":-1.50,"y":0.52},{"h":24,"x":-1.45,"y":0.60},{"h":24,"x":-1.40,"y":0.64},{"h":24,"x":-1.35,"y":0.70},{"h":24,"x":-1.30,"y":0.72},{"h":24,"x":-1.25,"y":0.80},{"h":24,"x":-1.20,"y":0.84},{"h":24,"x":-1.15,"y":0.90},{"h":24,"x":-1.10,"y":0.96},{"h":24,"x":-1.05,"y":1.00},{"h":24,"x":-1.00,"y":1.08},{"h":24,"x":-0.95,"y":1.20},{"h":24,"x":-0.90,"y":1.30},{"h":24,"x":-0.85,"y":1.36},{"h":24,"x":-0.80,"y":1.42},{"h":24,"x":-0.75,"y":1.50},{"h":24,"x":-0.70,"y":1.46},{"h":24,"x":-0.67,"y":1.62},{"h":24,"x":-0.63,"y":1.55},{"h":24,"x":-0.60,"y":1.70},{"h":24,"x":-0.55,"y":1.64},{"h":24,"x":-0.50,"y":2.14},{"h":24,"x":-0.48,"y":1.76},{"h":24,"x":-0.45,"y":1.68},{"h":24,"x":-0.42,"y":1.85},{"h":24,"x":-0.40,"y":1.72},{"h":24,"x":-0.36,"y":1.95},{"h":24,"x":-0.33,"y":1.97},{"h":24,"x":-0.31,"y":2.95},{"h":24,"x":-0.28,"y":1.80},{"h":24,"x":-0.25,"y":1.90},{"h":24,"x":-0.22,"y":2.88},{"h":24,"x":-0.20,"y":1.75},{"h":24,"x":-0.17,"y":2.05},{"h":24,"x":-0.13,"y":1.85},{"h":24,"x":-0.10,"y":1.62},{"h":24,"x":-0.07,"y":1.98},{"h":24,"x":-0.05,"y":1.92},{"h":24,"x":-0.02,"y":1.78},{"h":24,"x":0.02,"y":1.62},{"h":24,"x":0.05,"y":2.02},{"h":24,"x":0.08,"y":1.88},{"h":24,"x":0.12,"y":1.70},{"h":24,"x":0.15,"y":1.95},{"h":24,"x":0.19,"y":3.47},{"h":24,"x":0.20,"y":1.82},{"h":24,"x":0.24,"y":1.60},{"h":24,"x":0.28,"y":1.90},{"h":24,"x":0.32,"y":1.76},{"h":24,"x":0.36,"y":1.85},{"h":24,"x":0.40,"y":1.84},{"h":24,"x":0.44,"y":1.66},{"h":24,"x":0.48,"y":1.72},{"h":24,"x":0.52,"y":1.58},{"h":24,"x":0.56,"y":1.75},{"h":24,"x":0.59,"y":1.62},{"h":24,"x":0.62,"y":1.50},{"h":24,"x":0.66,"y":1.56},{"h":24,"x":0.67,"y":1.32},{"h":24,"x":0.70,"y":1.45},{"h":24,"x":0.74,"y":1.38},{"h":24,"x":0.78,"y":1.46},{"h":24,"x":0.82,"y":1.32},{"h":24,"x":0.86,"y":1.40},{"h":24,"x":0.90,"y":1.28},{"h":24,"x":0.95,"y":1.30},{"h":24,"x":1.00,"y":1.22},{"h":24,"x":1.05,"y":1.20},{"h":24,"x":1.10,"y":1.14},{"h":24,"x":1.15,"y":1.10},{"h":24,"x":1.20,"y":1.06},{"h":24,"x":1.22,"y":1.90},{"h":24,"x":1.25,"y":1.00},{"h":24,"x":1.30,"y":1.00},{"h":24,"x":1.35,"y":0.94},{"h":24,"x":1.40,"y":0.90},{"h":24,"x":1.45,"y":0.86},{"h":24,"x":1.50,"y":0.82},{"h":24,"x":1.55,"y":0.80},{"h":24,"x":1.60,"y":0.74},{"h":24,"x":1.65,"y":0.72},{"h":24,"x":1.70,"y":0.66},{"h":24,"x":1.75,"y":0.64},{"h":24,"x":1.80,"y":0.60},{"h":24,"x":1.85,"y":0.62},{"h":24,"x":1.90,"y":0.57},{"h":24,"x":1.95,"y":0.54},{"h":24,"x":2.00,"y":0.52},{"h":24,"x":2.05,"y":0.48},{"h":24,"x":2.10,"y":0.45},{"h":24,"x":2.15,"y":0.42},{"h":24,"x":2.20,"y":0.40},{"h":24,"x":2.26,"y":0.38},{"h":24,"x":2.30,"y":0.30},{"h":24,"x":2.35,"y":0.26},{"h":24,"x":2.40,"y":0.20},{"h":24,"x":2.45,"y":0.22},{"h":24,"x":2.50,"y":0.15},{"h":24,"x":2.55,"y":0.18},{"h":24,"x":2.60,"y":0.10},
{"h":24,"x":-2.18,"y":0.20},{"h":24,"x":-2.13,"y":0.10},{"h":24,"x":-2.08,"y":0.26},{"h":24,"x":-2.03,"y":0.16},{"h":24,"x":-1.98,"y":0.28},{"h":24,"x":-1.93,"y":0.22},{"h":24,"x":-1.88,"y":0.32},{"h":24,"x":-1.83,"y":0.42},{"h":24,"x":-1.78,"y":0.36},{"h":24,"x":-1.73,"y":0.34},{"h":24,"x":-1.68,"y":0.44},{"h":24,"x":-1.63,"y":0.52},{"h":24,"x":-1.58,"y":0.48},{"h":24,"x":-1.53,"y":0.50},{"h":24,"x":-1.48,"y":0.58},{"h":24,"x":-1.43,"y":0.56},{"h":24,"x":-1.38,"y":0.68},{"h":24,"x":-1.33,"y":0.66},{"h":24,"x":-1.28,"y":0.76},{"h":24,"x":-1.23,"y":0.74},{"h":24,"x":-1.18,"y":0.88},{"h":24,"x":-1.13,"y":0.86},{"h":24,"x":-1.08,"y":1.00},{"h":24,"x":-1.03,"y":1.04},{"h":24,"x":-0.98,"y":1.14},{"h":24,"x":-0.93,"y":1.24},{"h":24,"x":-0.88,"y":1.26},{"h":24,"x":-0.83,"y":1.40},{"h":24,"x":-0.78,"y":1.36},{"h":24,"x":-0.73,"y":1.55},{"h":24,"x":-0.69,"y":1.42},{"h":24,"x":-0.65,"y":1.66},{"h":24,"x":-0.61,"y":1.50},{"h":24,"x":-0.57,"y":1.72},{"h":24,"x":-0.53,"y":1.58},{"h":24,"x":-0.47,"y":1.90},{"h":24,"x":-0.44,"y":1.62},{"h":24,"x":-0.39,"y":1.88},{"h":24,"x":-0.35,"y":1.70},{"h":24,"x":-0.30,"y":1.92},{"h":24,"x":-0.27,"y":1.68},{"h":24,"x":-0.24,"y":2.02},{"h":24,"x":-0.18,"y":1.88},{"h":24,"x":-0.15,"y":1.70},{"h":24,"x":-0.11,"y":2.08},{"h":24,"x":-0.08,"y":1.78},{"h":24,"x":-0.03,"y":2.00},{"h":24,"x":0.00,"y":1.70},{"h":24,"x":0.04,"y":1.84},{"h":24,"x":0.07,"y":1.64},{"h":24,"x":0.10,"y":1.96},{"h":24,"x":0.14,"y":1.78},{"h":24,"x":0.17,"y":1.58},{"h":24,"x":0.22,"y":1.92},{"h":24,"x":0.26,"y":1.72},{"h":24,"x":0.30,"y":1.62},{"h":24,"x":0.34,"y":1.90},{"h":24,"x":0.38,"y":1.68},{"h":24,"x":0.42,"y":1.78},{"h":24,"x":0.46,"y":1.55},{"h":24,"x":0.50,"y":1.66},{"h":24,"x":0.54,"y":1.50},{"h":24,"x":0.58,"y":1.70},{"h":24,"x":0.64,"y":1.44},{"h":24,"x":0.68,"y":1.60},{"h":24,"x":0.72,"y":1.50},{"h":24,"x":0.76,"y":1.34},{"h":24,"x":0.80,"y":1.40},{"h":24,"x":0.84,"y":1.28},{"h":24,"x":0.88,"y":1.34},{"h":24,"x":0.92,"y":1.24},{"h":24,"x":0.97,"y":1.20},{"h":24,"x":1.02,"y":1.26},{"h":24,"x":1.07,"y":1.12},{"h":24,"x":1.12,"y":1.20},{"h":24,"x":1.17,"y":1.04},{"h":24,"x":1.23,"y":1.08},{"h":24,"x":1.27,"y":0.95},{"h":24,"x":1.32,"y":1.04},{"h":24,"x":1.38,"y":0.96},{"h":24,"x":1.42,"y":0.86},{"h":24,"x":1.47,"y":0.90},{"h":24,"x":1.52,"y":0.78},{"h":24,"x":1.57,"y":0.84},{"h":24,"x":1.62,"y":0.70},{"h":24,"x":1.67,"y":0.76},{"h":24,"x":1.72,"y":0.62},{"h":24,"x":1.77,"y":0.68},{"h":24,"x":1.82,"y":0.56},{"h":24,"x":1.87,"y":0.58},{"h":24,"x":1.92,"y":0.60},{"h":24,"x":1.97,"y":0.50},{"h":24,"x":2.02,"y":0.55},{"h":24,"x":2.07,"y":0.44},{"h":24,"x":2.12,"y":0.50},{"h":24,"x":2.17,"y":0.38},{"h":24,"x":2.23,"y":0.44},{"h":24,"x":2.28,"y":0.34},{"h":24,"x":2.33,"y":0.36},{"h":24,"x":2.38,"y":0.24},{"h":24,"x":2.43,"y":0.28},{"h":24,"x":2.48,"y":0.20},{"h":24,"x":2.53,"y":0.24},{"h":24,"x":2.58,"y":0.14},
{"h":24,"x":2.66,"y":0.12},{"h":24,"x":2.73,"y":0.04},{"h":24,"x":2.80,"y":0.15},{"h":24,"x":2.87,"y":-0.02},{"h":24,"x":2.94,"y":0.08},{"h":24,"x":3.01,"y":0.18},{"h":24,"x":3.08,"y":0.02},{"h":24,"x":3.15,"y":0.12},{"h":24,"x":3.22,"y":0.20},{"h":24,"x":3.29,"y":0.06},{"h":24,"x":3.36,"y":0.16},{"h":24,"x":3.43,"y":0.28},{"h":24,"x":3.50,"y":0.12},{"h":24,"x":3.57,"y":0.40},{"h":24,"x":3.60,"y":0.22},{"h":24,"x":3.67,"y":0.10},{"h":24,"x":3.74,"y":0.18},{"h":24,"x":3.81,"y":0.02},{"h":24,"x":3.88,"y":0.10},{"h":24,"x":3.95,"y":-0.06},{"h":24,"x":4.02,"y":0.05},{"h":24,"x":4.09,"y":0.12},{"h":24,"x":4.16,"y":-0.04},{"h":24,"x":4.23,"y":0.06},{"h":24,"x":4.30,"y":-0.10},{"h":24,"x":4.37,"y":0.02},{"h":24,"x":4.44,"y":0.08},{"h":24,"x":4.51,"y":-0.05},{"h":24,"x":4.58,"y":0.04},{"h":24,"x":4.65,"y":0.12},{"h":24,"x":4.72,"y":0.02},{"h":24,"x":4.79,"y":0.15},{"h":24,"x":4.86,"y":0.06},{"h":24,"x":4.93,"y":-0.03},{"h":24,"x":5.00,"y":0.10},{"h":24,"x":5.07,"y":0.18},{"h":24,"x":5.14,"y":0.04},{"h":24,"x":5.21,"y":0.10},{"h":24,"x":5.28,"y":0.00},{"h":24,"x":5.35,"y":0.06},{"h":24,"x":5.42,"y":-0.08},{"h":24,"x":5.49,"y":-0.02},{"h":24,"x":5.56,"y":-0.12},{"h":24,"x":5.63,"y":-0.06},{"h":24,"x":5.70,"y":-0.16},{"h":24,"x":5.77,"y":-0.10},{"h":24,"x":5.84,"y":-0.20},{"h":24,"x":5.91,"y":-0.12},{"h":24,"x":5.98,"y":-0.24},{"h":24,"x":6.02,"y":-0.32},{"h":24,"x":6.05,"y":-0.05},{"h":24,"x":6.12,"y":-0.12},{"h":24,"x":6.19,"y":0.04},{"h":24,"x":6.26,"y":-0.06},{"h":24,"x":6.33,"y":0.12},{"h":24,"x":6.40,"y":0.08},{"h":24,"x":6.47,"y":0.16},{"h":24,"x":6.54,"y":0.00},{"h":24,"x":6.58,"y":0.06},
{"h":24,"x":2.63,"y":0.06},{"h":24,"x":2.70,"y":0.20},{"h":24,"x":2.77,"y":0.08},{"h":24,"x":2.84,"y":0.10},{"h":24,"x":2.91,"y":0.02},{"h":24,"x":2.98,"y":0.10},{"h":24,"x":3.05,"y":0.14},{"h":24,"x":3.12,"y":0.06},{"h":24,"x":3.19,"y":0.16},{"h":24,"x":3.26,"y":0.10},{"h":24,"x":3.33,"y":0.22},{"h":24,"x":3.40,"y":0.10},{"h":24,"x":3.47,"y":0.30},{"h":24,"x":3.54,"y":0.20},{"h":24,"x":3.64,"y":0.14},{"h":24,"x":3.71,"y":0.06},{"h":24,"x":3.78,"y":0.12},{"h":24,"x":3.85,"y":0.04},{"h":24,"x":3.92,"y":0.14},{"h":24,"x":3.99,"y":0.02},{"h":24,"x":4.06,"y":-0.04},{"h":24,"x":4.13,"y":0.08},{"h":24,"x":4.20,"y":0.00},{"h":24,"x":4.27,"y":0.10},{"h":24,"x":4.34,"y":-0.04},{"h":24,"x":4.41,"y":0.06},{"h":24,"x":4.48,"y":0.00},{"h":24,"x":4.55,"y":0.10},{"h":24,"x":4.62,"y":-0.02},{"h":24,"x":4.69,"y":0.08},{"h":24,"x":4.76,"y":0.05},{"h":24,"x":4.83,"y":0.12},{"h":24,"x":4.90,"y":0.02},{"h":24,"x":4.97,"y":0.14},{"h":24,"x":5.04,"y":0.06},{"h":24,"x":5.11,"y":0.12},{"h":24,"x":5.18,"y":-0.02},{"h":24,"x":5.25,"y":0.08},{"h":24,"x":5.32,"y":-0.04},{"h":24,"x":5.39,"y":0.04},{"h":24,"x":5.46,"y":-0.10},{"h":24,"x":5.53,"y":-0.04},{"h":24,"x":5.60,"y":-0.10},{"h":24,"x":5.67,"y":-0.20},{"h":24,"x":5.74,"y":-0.06},{"h":24,"x":5.81,"y":-0.14},{"h":24,"x":5.88,"y":-0.06},{"h":24,"x":5.95,"y":-0.18},{"h":24,"x":6.08,"y":-0.08},{"h":24,"x":6.15,"y":0.00},{"h":24,"x":6.22,"y":-0.10},{"h":24,"x":6.29,"y":0.06},{"h":24,"x":6.36,"y":0.18},{"h":24,"x":6.43,"y":0.02},{"h":24,"x":6.50,"y":0.10},{"h":24,"x":6.56,"y":-0.04}
]},
"mark": {"type": "point", "filled": true, "size": 38, "opacity": 1},
"encoding": {
 "x": {"field": "x", "type": "quantitative",
   "scale": {"domain": [-8, 8], "nice": false, "zero": false},
   "axis": {"values": [-8,-6,-4,-2,0,2,4,6,8], "offset": -77, "grid": false, "labelExpr": "'' + datum.value",
     "title": "Distance from application point (mm)", "titleFont": "Lato", "titleFontSize": 22, "titleFontWeight": "normal", "titleColor": "#333333",
     "titleX": 489, "titleY": 93, "titleBaseline": "alphabetic", "titleAnchor": "middle",
     "labelFont": "Lato", "labelFontSize": 18.5, "labelColor": "#404040", "labelPadding": 10,
     "domainColor": "#000000", "domainWidth": 1, "tickColor": "#000000", "tickSize": 5}},
 "y": {"field": "y", "type": "quantitative",
   "scale": {"domain": [-0.5, 4], "nice": false, "zero": false},
   "axis": {"values": [-0.5,0,0.5,1,1.5,2,2.5,3,3.5,4], "grid": false, "labelExpr": "'' + datum.value",
     "title": "Normalised Zn leaf concentration (µg/g)", "titleFont": "Lato", "titleFontSize": 20.5, "titleFontWeight": "normal", "titleColor": "#595959",
     "titleX": -74, "titleY": 346, "titleBaseline": "middle", "titleAngle": -90, "titleAnchor": "middle",
     "labelFont": "Lato", "labelFontSize": 18.5, "labelColor": "#595959", "labelPadding": 13,
     "domainColor": "#000000", "domainWidth": 1, "tickColor": "#000000", "tickSize": 6}},
 "color": {"field": "h", "type": "nominal",
   "scale": {"domain": [3, 12, 24], "range": ["#5B9BD5", "#ED7D31", "#A5A5A5"]},
   "legend": {"title": null, "orient": "none", "legendX": 833, "legendY": 230, "padding": 0,
     "labelExpr": "datum.label + ' hours'", "labelFont": "Lato", "labelFontSize": 19, "labelColor": "#404040",
     "symbolType": "circle", "symbolSize": 30, "rowPadding": 20, "labelOffset": 2}}
}
}
